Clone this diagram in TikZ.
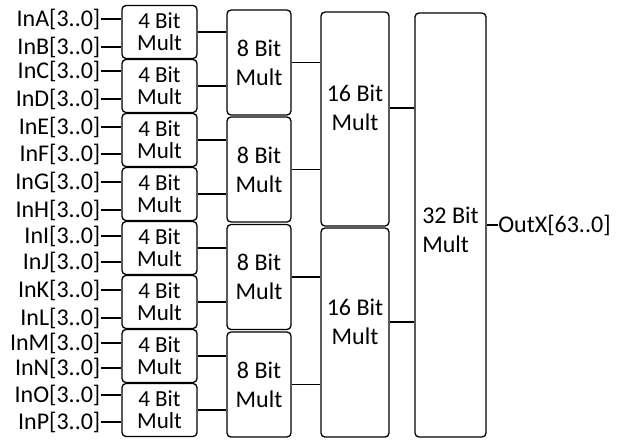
\documentclass[tikz,border=0pt]{standalone}
\usepackage{fontspec}
\setmainfont{Carlito}
\usetikzlibrary{positioning}
\begin{document}
\begin{tikzpicture}[x=1pt,y=-1pt,line width=1.3pt,
 m4/.style={draw,rounded corners=4pt,minimum width=75pt,minimum height=53pt,align=center,inner sep=0pt,font=\fontsize{23}{22}\selectfont},
 mb/.style={draw,rounded corners=4pt,align=center,inner sep=0pt,font=\fontsize{24}{29}\selectfont},
 tx/.style={align=center,inner sep=0pt,font=\fontsize{24}{29}\selectfont},
 inl/.style={anchor=east,inner sep=0pt,font=\fontsize{24}{24}\selectfont}]
\useasboundingbox (0,0) rectangle (621,439);
% 4 bit multipliers
\node[m4] (m4a) at (159.5,32) {4 Bit\\Mult};
\node[m4] (m4b) at (159.5,86) {4 Bit\\Mult};
\node[m4] (m4c) at (159.5,140) {4 Bit\\Mult};
\node[m4] (m4d) at (159.5,194) {4 Bit\\Mult};
\node[m4] (m4e) at (159.5,248) {4 Bit\\Mult};
\node[m4] (m4f) at (159.5,302) {4 Bit\\Mult};
\node[m4] (m4g) at (159.5,356) {4 Bit\\Mult};
\node[m4] (m4h) at (159.5,410) {4 Bit\\Mult};
% 8 bit multipliers
\node[mb,minimum width=64pt,minimum height=105pt] (m8a) at (259,62.5) {8 Bit\\Mult};
\node[mb,minimum width=64pt,minimum height=105pt] (m8b) at (259,169.5) {8 Bit\\Mult};
\node[mb,minimum width=64pt,minimum height=105pt] (m8c) at (259,277) {8 Bit\\Mult};
\node[mb,minimum width=64pt,minimum height=105pt] (m8d) at (259,384.5) {8 Bit\\Mult};
% 16 and 32 bit
\node[mb,minimum width=68pt,minimum height=214pt] (m16a) at (355,119) {};
\node[tx] (t16a) at (355,108) {16 Bit\\Mult};
\node[mb,minimum width=68pt,minimum height=209pt] (m16b) at (355,332.5) {};
\node[tx] (t16b) at (355,322) {16 Bit\\Mult};
\node[mb,minimum width=71pt,minimum height=424pt] (m32) at (450.5,225) {};
\node[tx,align=left] (t32) at (450.5,230) {32 Bit\\Mult};
\node[inner sep=0pt,font=\fontsize{24}{24}\selectfont,right=11pt of m32] (out) {OutX[63..0]};
% inputs
\node[inl] (inA) at (101,19) {InA[3..0]}; \node[inl] (inB) at (101,47) {InB[3..0]};
\node[inl] (inC) at (101,71) {InC[3..0]}; \node[inl] (inD) at (101,99) {InD[3..0]};
\node[inl] (inE) at (101,127) {InE[3..0]}; \node[inl] (inF) at (101,154) {InF[3..0]};
\node[inl] (inG) at (101,182) {InG[3..0]}; \node[inl] (inH) at (101,210) {InH[3..0]};
\node[inl] (inI) at (101,236) {InI[3..0]}; \node[inl] (inJ) at (101,262) {InJ[3..0]};
\node[inl] (inK) at (101,290) {InK[3..0]}; \node[inl] (inL) at (101,318) {InL[3..0]};
\node[inl] (inM) at (101,343) {InM[3..0]}; \node[inl] (inN) at (101,368) {InN[3..0]};
\node[inl] (inO) at (101,395) {InO[3..0]}; \node[inl] (inP) at (101,422) {InP[3..0]};
\draw (inA.east)--(inA.east-|m4a.west); \draw (inB.east)--(inB.east-|m4a.west);
\draw (inC.east)--(inC.east-|m4b.west); \draw (inD.east)--(inD.east-|m4b.west);
\draw (inE.east)--(inE.east-|m4c.west); \draw (inF.east)--(inF.east-|m4c.west);
\draw (inG.east)--(inG.east-|m4d.west); \draw (inH.east)--(inH.east-|m4d.west);
\draw (inI.east)--(inI.east-|m4e.west); \draw (inJ.east)--(inJ.east-|m4e.west);
\draw (inK.east)--(inK.east-|m4f.west); \draw (inL.east)--(inL.east-|m4f.west);
\draw (inM.east)--(inM.east-|m4g.west); \draw (inN.east)--(inN.east-|m4g.west);
\draw (inO.east)--(inO.east-|m4h.west); \draw (inP.east)--(inP.east-|m4h.west);
% connections
\draw (m4a.east)--(m4a.east-|m8a.west); \draw (m4b.east)--(m4b.east-|m8a.west);
\draw (m4c.east)--(m4c.east-|m8b.west); \draw (m4d.east)--(m4d.east-|m8b.west);
\draw (m4e.east)--(m4e.east-|m8c.west); \draw (m4f.east)--(m4f.east-|m8c.west);
\draw (m4g.east)--(m4g.east-|m8d.west); \draw (m4h.east)--(m4h.east-|m8d.west);
\draw (m8a.east)--(m8a.east-|m16a.west); \draw (m8b.east)--(m8b.east-|m16a.west);
\draw (m8c.east)--(m8c.east-|m16b.west); \draw (m8d.east)--(m8d.east-|m16b.west);
\draw (t16a.east-|m16a.east)--(t16a.east-|m32.west);
\draw (t16b.east-|m16b.east)--(t16b.east-|m32.west);
\draw (m32.east)--(out.west);
\end{tikzpicture}
\end{document}
